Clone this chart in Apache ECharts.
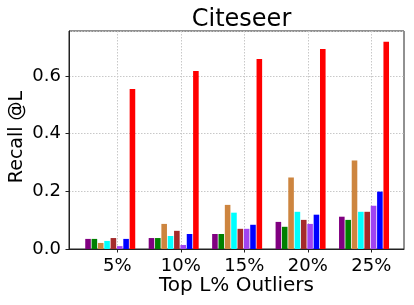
<!DOCTYPE html>
<html>
<head>
<meta charset="utf-8">
<script src="https://cdn.jsdelivr.net/npm/echarts@6/dist/echarts.min.js"></script>
<style>html,body{margin:0;padding:0;background:#fff}#c{width:414px;height:305px}</style>
</head>
<body>
<div id="c"></div>
<script>
var categories = ['5%', '10%', '15%', '20%', '25%'];
var colors = ['#800080', '#008000', '#CD853F', '#00FFFF', '#A52A2A', '#A044F2', '#0000FF', '#FF0000'];
var s0 = [0.035, 0.038, 0.052, 0.094, 0.112];
var s1 = [0.035, 0.038, 0.052, 0.077, 0.101];
var s2 = [0.021, 0.087, 0.153, 0.248, 0.307];
var s3 = [0.028, 0.045, 0.126, 0.129, 0.129];
var s4 = [0.038, 0.063, 0.070, 0.101, 0.129];
var s5 = [0.010, 0.014, 0.070, 0.087, 0.150];
var s6 = [0.035, 0.052, 0.084, 0.119, 0.199];
var s7 = [0.555, 0.617, 0.659, 0.694, 0.719];
var seriesValues = [s0, s1, s2, s3, s4, s5, s6, s7];
var yTicks = [0.0, 0.2, 0.4, 0.6];

var FONT = 'DejaVu Sans';
var BAR_STEP = 0.1;
var series = seriesValues.map(function (vals, i) {
  return {
    type: 'custom',
    xAxisIndex: 0, yAxisIndex: 0,
    encode: { x: 0, y: 1 },
    renderItem: function (params, api) {
      var x = api.value(0), y = api.value(1);
      var top = api.coord([x, y]);
      var base = api.coord([x, 0]);
      var w = api.size([BAR_STEP, 0])[0] * 0.88;
      return {
        type: 'rect',
        shape: { x: top[0] - w / 2, y: top[1], width: w, height: base[1] - top[1] },
        style: { fill: colors[i] }
      };
    },
    data: vals.map(function (v, g) { return [g + i * BAR_STEP, v]; })
  };
});

var chart = echarts.init(document.getElementById('c'), null, { renderer: 'canvas' });
chart.setOption({
  animation: false,
  title: {
    text: 'Citeseer', left: 236.5, textAlign: 'center', top: 3,
    textStyle: { fontFamily: FONT, fontSize: 24, fontWeight: 'normal', color: '#000' }
  },
  grid: [
    { left: 69, right: 10, top: 31, bottom: 56, show: true, borderColor: '#222', borderWidth: 1, backgroundColor: 'transparent', containLabel: false, outerBoundsMode: 'none' },
    { left: 117.3, right: 42.7, top: 31, bottom: 56, containLabel: false, outerBoundsMode: 'none' }
  ],
  xAxis: [
    {
      type: 'value', gridIndex: 0, min: -0.3, max: 4.98,
      axisLabel: { show: false }, axisTick: { show: false }, splitLine: { show: false },
      axisLine: { show: true, onZero: false, lineStyle: { color: '#222', width: 1 } },
      name: 'Top L% Outliers', nameLocation: 'middle', nameGap: 27, nameMoveOverlap: false,
      nameTextStyle: { fontFamily: FONT, fontSize: 20, color: '#000' }
    },
    {
      type: 'category', gridIndex: 1, data: categories, boundaryGap: false,
      axisLine: { show: false },
      axisTick: { show: true, alignWithLabel: true, length: 3.5, inside: false, lineStyle: { color: '#222' } },
      axisLabel: { fontFamily: FONT, fontSize: 18, color: '#000', margin: 8 },
      splitLine: { show: true, lineStyle: { color: '#c8c8c8', type: [1.5, 1.5], width: 1 } }
    }
  ],
  yAxis: [
    {
      type: 'value', gridIndex: 0, min: 0, max: 0.756, interval: 0.2,
      axisLine: { show: true, onZero: false, lineStyle: { color: '#222', width: 1 } },
      axisTick: { show: true, length: 3.5, lineStyle: { color: '#222' } },
      axisLabel: {
        fontFamily: FONT, fontSize: 18, color: '#000', margin: 8, showMaxLabel: false,
        formatter: function (v) { return v.toFixed(1); }
      },
      splitLine: { show: true, lineStyle: { color: '#c8c8c8', type: [1.5, 1.5], width: 1 } },
      name: 'Recall @L', nameLocation: 'middle', nameGap: 42.5, nameMoveOverlap: false,
      nameTextStyle: { fontFamily: FONT, fontSize: 19, color: '#000', padding: [0, 0, 0, 6] }
    },
    { type: 'value', gridIndex: 1, show: false, min: 0, max: 1 }
  ],
  series: series
});
</script>
</body>
</html>
